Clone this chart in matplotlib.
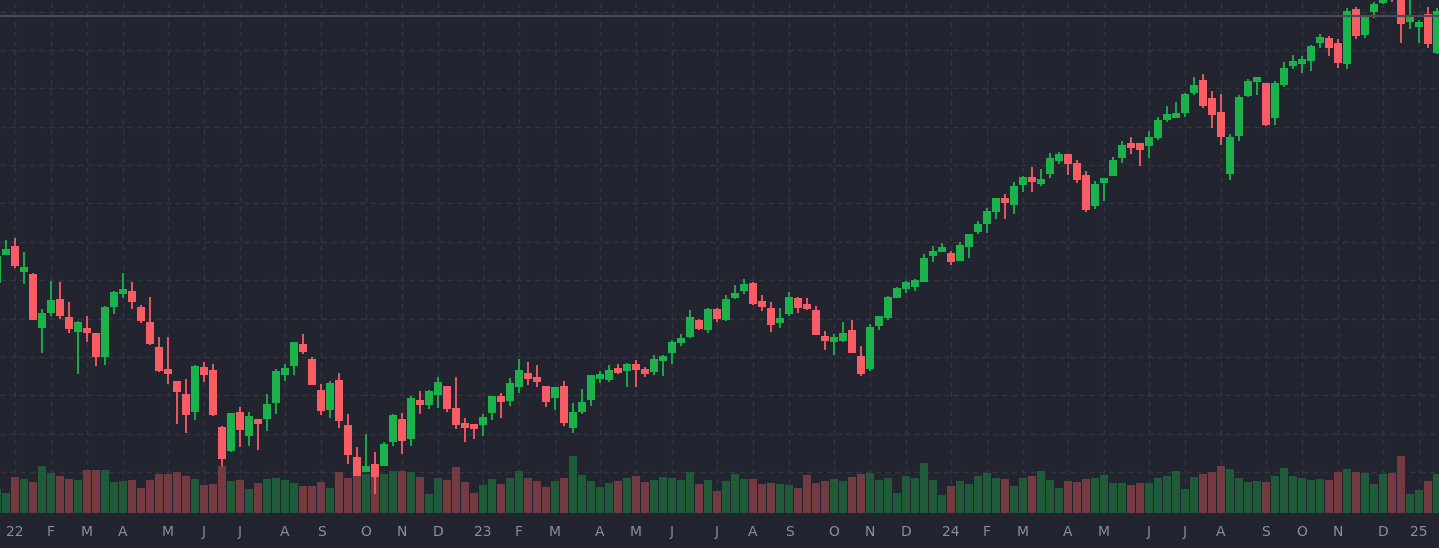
import matplotlib
matplotlib.use('Agg')
import matplotlib.pyplot as plt
import numpy as np
import pandas as pd

plt.rcParams['font.family'] = 'DejaVu Sans'
plt.rcParams['lines.scale_dashes'] = False

# weekly bars, Monday dates
weeks = pd.date_range('2021-12-20', periods=161, freq='W-MON')

opens = [
    4587, 4731, 4778, 4643, 4632, 4351, 4429, 4502, 4408, 4330,
    4351, 4325, 4200, 4460, 4528, 4544, 4460, 4382, 4252, 4137,
    4074, 4007, 3913, 4147, 4132, 3835, 3709, 3913, 3788, 3876,
    3876, 3960, 4106, 4153, 4267, 4189, 4027, 3923, 4080, 3845,
    3678, 3600, 3642, 3631, 3756, 3876, 3772, 3975, 3949, 4001,
    4048, 3934, 3855, 3850, 3845, 3908, 3996, 3970, 4043, 4116,
    4095, 4048, 3986, 4048, 3829, 3913, 3975, 4085, 4080, 4142,
    4127, 4163, 4137, 4121, 4179, 4220, 4273, 4304, 4392, 4340,
    4450, 4392, 4507, 4544, 4585, 4492, 4455, 4377, 4424, 4507,
    4476, 4445, 4309, 4278, 4283, 4340, 4205, 4137, 4361, 4403,
    4507, 4554, 4565, 4591, 4726, 4747, 4742, 4700, 4773, 4851,
    4893, 4956, 5029, 4992, 5096, 5138, 5102, 5154, 5221, 5258,
    5211, 5149, 4987, 5107, 5143, 5237, 5315, 5315, 5300, 5341,
    5435, 5446, 5472, 5576, 5644, 5550, 5477, 5154, 5352, 5560,
    5633, 5628, 5446, 5618, 5717, 5727, 5743, 5837, 5863, 5837,
    5727, 6014, 5878, 5998, 6045, 6083, 6065, 5946, 5920, 5988,
    5785,
]
highs = [
    4740, 4810, 4818, 4747, 4636, 4450, 4596, 4590, 4486, 4385,
    4413, 4327, 4463, 4544, 4637, 4590, 4471, 4512, 4304, 4304,
    4077, 4085, 4156, 4173, 4163, 3838, 3910, 3939, 3913, 3878,
    4007, 4137, 4163, 4280, 4319, 4200, 4059, 4074, 4116, 3902,
    3730, 3798, 3704, 3756, 3900, 3908, 3996, 4022, 4027, 4095,
    4050, 4095, 3881, 3852, 3902, 3998, 4012, 4090, 4189, 4173,
    4158, 4050, 4045, 4074, 3960, 4033, 4108, 4127, 4158, 4163,
    4168, 4184, 4147, 4210, 4210, 4288, 4319, 4445, 4398, 4455,
    4455, 4523, 4575, 4606, 4591, 4523, 4486, 4455, 4538, 4512,
    4507, 4465, 4335, 4319, 4382, 4392, 4257, 4372, 4415, 4518,
    4565, 4596, 4606, 4737, 4778, 4794, 4752, 4799, 4843, 4909,
    4976, 5031, 5049, 5112, 5143, 5190, 5180, 5263, 5268, 5260,
    5227, 5169, 5117, 5135, 5242, 5326, 5347, 5317, 5378, 5451,
    5508, 5529, 5576, 5659, 5675, 5586, 5571, 5362, 5566, 5649,
    5661, 5630, 5639, 5738, 5774, 5769, 5826, 5884, 5873, 5858,
    6019, 6024, 5974, 6050, 6099, 6089, 6075, 6066, 5957, 6024,
    6019,
]
lows = [
    4531, 4731, 4665, 4580, 4392, 4220, 4413, 4398, 4325, 4111,
    4278, 4153, 4158, 4424, 4507, 4450, 4377, 4262, 4121, 4059,
    3850, 3803, 3871, 4069, 3892, 3631, 3706, 3730, 3735, 3715,
    3814, 3902, 4074, 4106, 4215, 4054, 3897, 3881, 3829, 3642,
    3579, 3600, 3485, 3630, 3736, 3694, 3736, 3902, 3928, 3934,
    3913, 3824, 3756, 3772, 3788, 3871, 3882, 3944, 4012, 4054,
    4043, 3939, 3923, 3840, 3803, 3902, 3944, 4064, 4069, 4111,
    4043, 4043, 4095, 4106, 4101, 4163, 4257, 4299, 4340, 4325,
    4382, 4387, 4502, 4528, 4471, 4439, 4330, 4351, 4413, 4429,
    4445, 4314, 4236, 4210, 4278, 4220, 4101, 4127, 4340, 4392,
    4505, 4533, 4544, 4589, 4695, 4745, 4679, 4698, 4716, 4841,
    4846, 4919, 4919, 4945, 5060, 5060, 5091, 5133, 5206, 5149,
    5107, 4955, 4971, 5013, 5141, 5211, 5258, 5195, 5237, 5331,
    5425, 5444, 5451, 5566, 5498, 5393, 5305, 5122, 5326, 5555,
    5566, 5404, 5409, 5607, 5701, 5680, 5691, 5811, 5769, 5706,
    5701, 5858, 5863, 5967, 6040, 6052, 5837, 5910, 5837, 5811,
    5779,
]
closes = [
    4726, 4761, 4674, 4669, 4392, 4429, 4497, 4413, 4346, 4382,
    4325, 4200, 4460, 4538, 4554, 4486, 4387, 4267, 4127, 4111,
    4017, 3897, 4153, 4106, 3897, 3668, 3908, 3819, 3892, 3850,
    3954, 4127, 4142, 4278, 4226, 4054, 3918, 4064, 3866, 3689,
    3579, 3631, 3574, 3746, 3897, 3762, 3986, 3949, 4022, 4069,
    3928, 3845, 3829, 3824, 3887, 3996, 3965, 4064, 4132, 4085,
    4069, 3965, 4043, 3855, 3913, 3965, 4106, 4111, 4132, 4116,
    4163, 4132, 4111, 4189, 4205, 4278, 4299, 4408, 4346, 4450,
    4398, 4502, 4533, 4580, 4476, 4460, 4366, 4403, 4512, 4455,
    4450, 4314, 4283, 4304, 4325, 4220, 4111, 4356, 4413, 4512,
    4559, 4591, 4601, 4716, 4752, 4773, 4695, 4784, 4841, 4893,
    4961, 5029, 5003, 5091, 5138, 5112, 5128, 5237, 5258, 5206,
    5122, 4966, 5102, 5133, 5227, 5305, 5289, 5279, 5347, 5435,
    5467, 5472, 5571, 5618, 5508, 5461, 5347, 5347, 5555, 5639,
    5659, 5409, 5628, 5706, 5743, 5753, 5821, 5868, 5811, 5732,
    6004, 5873, 5972, 6040, 6088, 6059, 5936, 5972, 5946, 5832,
    6004,
]
# weekly volume, billions of shares
volumes = [
    12.2, 10.2, 18.2, 17.2, 15.7, 23.7, 20.2, 18.7, 17.2, 16.7,
    21.7, 21.7, 21.7, 15.7, 16.2, 16.7, 12.7, 16.7, 19.7, 19.7,
    20.7, 18.7, 17.2, 14.2, 14.7, 23.7, 16.2, 16.7, 12.2, 15.2,
    17.2, 17.7, 16.7, 15.2, 13.7, 13.7, 15.7, 12.7, 20.7, 17.7,
    18.7, 19.7, 19.2, 19.7, 21.2, 21.2, 20.7, 18.2, 9.7, 17.7,
    16.7, 23.2, 15.7, 10.2, 14.2, 17.2, 14.7, 17.7, 21.2, 17.7,
    16.2, 13.2, 16.2, 17.7, 28.7, 19.2, 16.2, 13.2, 15.2, 16.2,
    17.7, 18.7, 15.7, 16.7, 18.2, 17.7, 16.7, 20.7, 14.7, 16.7,
    11.2, 16.2, 19.7, 17.2, 17.2, 14.7, 15.2, 14.7, 14.2, 12.7,
    19.2, 15.2, 16.2, 17.2, 16.2, 18.2, 19.7, 20.2, 16.7, 17.7,
    10.2, 18.7, 17.7, 25.2, 16.7, 9.2, 13.7, 16.2, 14.7, 18.7,
    20.2, 17.7, 17.2, 13.7, 17.7, 18.7, 21.2, 16.7, 12.7, 16.2,
    15.7, 17.2, 17.7, 19.2, 15.2, 15.2, 14.2, 15.2, 15.2, 17.7,
    18.7, 21.2, 12.2, 18.2, 19.7, 20.7, 23.7, 22.2, 17.7, 15.7,
    16.2, 15.7, 18.7, 22.7, 18.7, 17.7, 16.7, 17.2, 16.7, 20.7,
    22.2, 20.7, 20.2, 14.7, 19.7, 20.2, 28.7, 9.7, 11.7, 16.2,
    19.7,
]
tick_labels = ['22', 'F', 'M', 'A', 'M', 'J', 'J', 'A', 'S', 'O', 'N', 'D',
               '23', 'F', 'M', 'A', 'M', 'J', 'J', 'A', 'S', 'O', 'N', 'D',
               '24', 'F', 'M', 'A', 'M', 'J', 'J', 'A', 'S', 'O', 'N', 'D',
               '25']
price_levels = [3600, 3800, 4000, 4200, 4400, 4600, 4800, 5000,
                5200, 5400, 5600, 5800, 6000]
ref_line = 5977

BG = '#22252f'
GRID = '#31353f'
UP = '#1bb24b'
DOWN = '#fa5c64'
VOL_UP = '#1f5a39'
VOL_DOWN = '#733a41'
TXT = '#8c909c'

o = np.array(opens, float)
h = np.array(highs, float)
l = np.array(lows, float)
c = np.array(closes, float)
v = np.array(volumes, float)
x = np.arange(len(weeks))
up = c >= o

# a month label sits on the week whose Friday falls in a new month
fridays = weeks + pd.Timedelta(days=4)
prev_fridays = weeks - pd.Timedelta(days=3)
tick_pos = x[fridays.month != prev_fridays.month]

PRICE_LIM = (3384.6, 6060.9)
XLIM = (1 / 3, 1442 / 9)

fig = plt.figure(figsize=(14.39, 5.48), dpi=100, facecolor=BG)
rect = [0, 1 - 513.3 / 548, 1, 513.3 / 548]

# three stacked layers: grid, volume, candles
axg = fig.add_axes(rect, facecolor=BG)
axv = fig.add_axes(rect, facecolor='none', sharex=axg)
ax = fig.add_axes(rect, facecolor='none', sharex=axg)

for p in price_levels:
    axg.axhline(p, color=GRID, lw=1.0, dashes=(4, 3))
for t in tick_pos:
    axg.axvline(t, color=GRID, lw=1.0, dashes=(4, 3))
axg.set_ylim(*PRICE_LIM)
axg.set_yticks([])
axg.set_xlim(*XLIM)
axg.set_xticks(tick_pos)
axg.set_xticklabels(tick_labels[:len(tick_pos)])
axg.tick_params(axis='x', length=0, pad=8.6, colors=TXT, labelsize=10)

axv.bar(x, v, width=0.88, color=np.where(up, VOL_UP, VOL_DOWN), linewidth=0)
axv.set_ylim(0, 513.3 / 2)
axv.set_yticks([])

cols = np.where(up, UP, DOWN)
ax.vlines(x, l, h, colors=cols, lw=1.3, zorder=2)
body = np.maximum(np.abs(c - o), 4)
ax.bar(x, body, bottom=np.minimum(o, c), width=0.82, color=cols,
       linewidth=0, zorder=3)
ax.axhline(ref_line, color='#4a4d57', lw=1.5, zorder=4)
ax.set_ylim(*PRICE_LIM)
ax.set_yticks([])

for a in (axv, ax):
    a.tick_params(axis='x', length=0, labelbottom=False)
for a in (axg, axv, ax):
    for sp in a.spines.values():
        sp.set_visible(False)

fig.savefig('out.png', dpi=100, facecolor=BG)
